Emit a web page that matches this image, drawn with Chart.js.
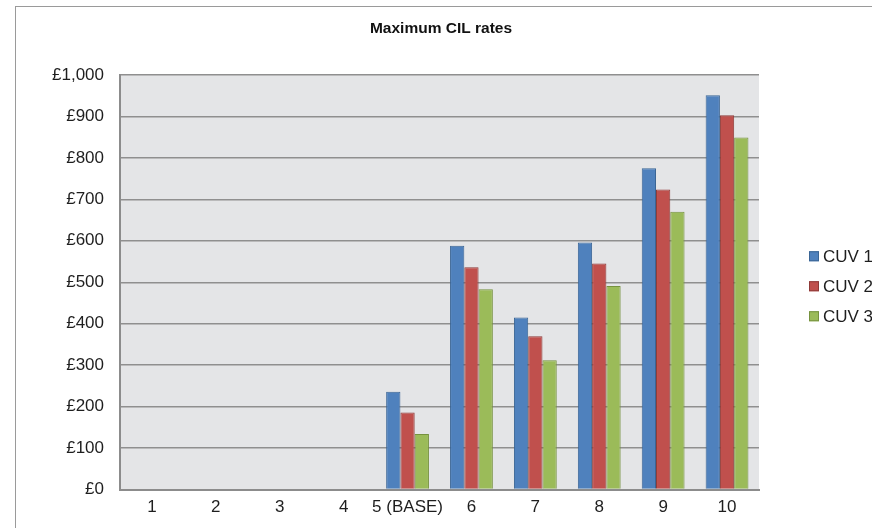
<!DOCTYPE html>
<html><head><meta charset="utf-8">
<style>html,body{margin:0;padding:0;background:#fff;overflow:hidden}#wrap{width:872px;height:528px;}</style>
<script src="https://cdn.jsdelivr.net/npm/chart.js@4.4.1/dist/chart.umd.min.js"></script>
</head><body><div id="wrap"><canvas id="c" width="872" height="528"></canvas></div>
<script>
const categories = ['1','2','3','4','5 (BASE)','6','7','8','9','10'];
const cuv1 = [0,0,0,0,236,588,415,596,775,951];
const cuv2 = [0,0,0,0,186,536,370,545,724,903];
const cuv3 = [0,0,0,0,134,483,312,491,670,849];
const seriesNames = ['CUV 1','CUV 2','CUV 3'];
const fillColors = ['#4F81BD','#C0504D','#9BBB59'];
const edgeColors = ['#3A6595','#8E3A38','#76923F'];
const yMin = 0, yMax = 1000, yStep = 100;
const titleText = 'Maximum CIL rates';

const FONT = "'Liberation Sans', Arial, sans-serif";
Chart.defaults.font.family = FONT;

const bgPlugin = {
  id: 'bg',
  beforeDraw(chart) {
    const ctx = chart.ctx, a = chart.chartArea;
    ctx.save();
    ctx.fillStyle = '#fff';
    ctx.fillRect(0, 0, chart.width, chart.height);
    ctx.strokeStyle = '#9a9a9a';
    ctx.lineWidth = 1;
    ctx.strokeRect(15.5, 6.5, chart.width + 20, chart.height + 20);
    ctx.fillStyle = '#E4E5E7';
    ctx.fillRect(a.left, a.top, a.right - a.left, a.bottom - a.top);
    ctx.restore();
  }
};

const legendPlugin = {
  id: 'sideLegend',
  afterDraw(chart) {
    const ctx = chart.ctx, a = chart.chartArea;
    const ds = chart.data.datasets;
    const x = a.right + 50;
    const y0 = (a.top + a.bottom) / 2 - 30 * (ds.length - 1) / 2 + 4;
    ctx.save();
    ctx.font = '17px ' + FONT;
    ctx.textBaseline = 'middle';
    ctx.textAlign = 'left';
    ds.forEach((d, i) => {
      const y = y0 + 30 * i;
      ctx.fillStyle = d.backgroundColor;
      ctx.fillRect(x, y - 5, 10, 10);
      ctx.strokeStyle = d.borderColor;
      ctx.lineWidth = 1;
      ctx.strokeRect(x + 0.5, y - 4.5, 9, 9);
      ctx.fillStyle = '#1e1e1e';
      ctx.fillText(d.label, x + 14, y + 1);
    });
    ctx.restore();
  }
};

const seriesData = [cuv1, cuv2, cuv3];
new Chart(document.getElementById('c'), {
  type: 'bar',
  data: {
    labels: categories,
    datasets: seriesData.map((vals, i) => ({
      label: seriesNames[i],
      data: vals,
      backgroundColor: fillColors[i],
      borderColor: edgeColors[i],
      borderWidth: 1,
      borderSkipped: 'bottom',
      categoryPercentage: 0.67,
      barPercentage: 1.0,
      yAxisID: 'y'
    }))
  },
  options: {
    responsive: false,
    animation: false,
    devicePixelRatio: 1,
    layout: { padding: { left: 10, right: 0, top: 0, bottom: 0 } },
    plugins: {
      legend: { display: false },
      tooltip: { enabled: false },
      title: {
        display: true,
        text: titleText,
        color: '#111',
        font: { size: 15.5, weight: 'bold', family: FONT },
        padding: { top: 19.4, bottom: 37 }
      }
    },
    scales: {
      x: {
        type: 'category',
        grid: { display: false, drawTicks: false },
        border: { display: true, color: '#8c8c8c', width: 2 },
        ticks: { font: { size: 17 }, color: '#1e1e1e', padding: 8, maxRotation: 0, autoSkip: false },
        afterFit(s) { s.height = 38.5; }
      },
      y: {
        type: 'linear',
        position: 'left',
        min: yMin, max: yMax,
        grid: { color: '#8f8f8f', lineWidth: 1.5, drawTicks: false },
        border: { display: true, color: '#8c8c8c', width: 2 },
        ticks: {
          stepSize: yStep,
          font: { size: 17 }, color: '#1e1e1e', padding: 16,
          callback: v => '£' + Number(v).toLocaleString('en-GB')
        },
        afterFit(s) { s.width = 110; }
      },
      yR: {
        type: 'linear',
        position: 'right',
        display: true,
        grid: { display: false, drawTicks: false },
        border: { display: false },
        ticks: { display: false },
        afterFit(s) { s.width = 113; }
      }
    }
  },
  plugins: [bgPlugin, legendPlugin]
});
</script>
</body></html>
